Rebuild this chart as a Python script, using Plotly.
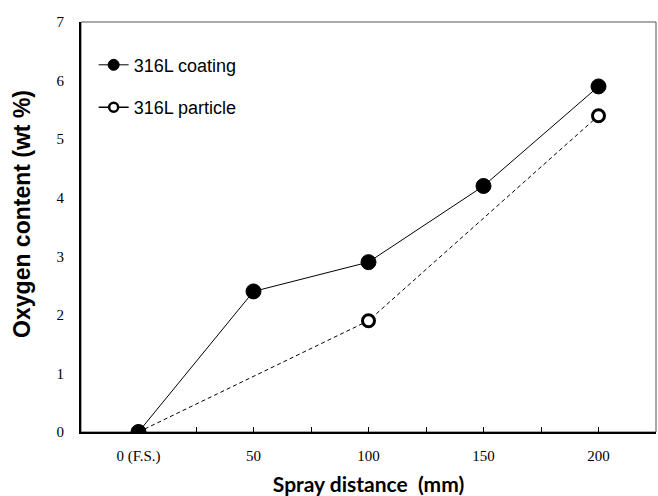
import plotly.graph_objects as go

# Data
distance_coating = [0, 50, 100, 150, 200]
oxygen_coating = [0.0, 2.4, 2.9, 4.2, 5.9]
distance_particle = [0, 100, 200]
oxygen_particle = [0.0, 1.9, 5.4]

tick_vals = [0, 25, 50, 75, 100, 125, 150, 175, 200]
tick_text = ["0 (F.S.)", "", "50", "", "100", "", "150", "", "200"]
y_ticks = [0, 1, 2, 3, 4, 5, 6, 7]

fig = go.Figure()

# plotted series (particle below coating so the shared 0 point shows filled)
fig.add_trace(go.Scatter(
    x=distance_particle, y=oxygen_particle, mode="lines+markers",
    name="316L particle", showlegend=False,
    line=dict(color="black", width=1, dash="4px,3px"),
    marker=dict(symbol="circle", size=12, color="white", line=dict(color="black", width=3)),
))
fig.add_trace(go.Scatter(
    x=distance_coating, y=oxygen_coating, mode="lines+markers",
    name="316L coating", showlegend=False,
    line=dict(color="black", width=1),
    marker=dict(symbol="circle", size=15, color="black", line=dict(color="black", width=1)),
))

# legend entries
fig.add_trace(go.Scatter(
    x=[None], y=[None], mode="lines+markers", name="316L coating", legendgroup="a",
    line=dict(color="black", width=1),
    marker=dict(symbol="circle", size=11, color="black", line=dict(color="black", width=1)),
))
fig.add_trace(go.Scatter(
    x=[None], y=[None], mode="lines+markers", name="316L particle", legendgroup="b",
    line=dict(color="black", width=1.5),
    marker=dict(symbol="circle", size=9, color="white", line=dict(color="black", width=2.5)),
))

fig.update_layout(
    width=658, height=496,
    margin=dict(l=81, r=2, t=22, b=64),
    paper_bgcolor="white", plot_bgcolor="white",
    showlegend=True,
    legend=dict(
        x=0.022, y=0.94, xanchor="left", yanchor="top",
        bgcolor="rgba(0,0,0,0)", borderwidth=0,
        font=dict(family="Liberation Sans, Arial, sans-serif", size=18, color="black"),
        tracegroupgap=16,
    ),
    shapes=[dict(type="rect", xref="paper", yref="paper", x0=0, y0=0, x1=1, y1=1,
                 line=dict(color="#555555", width=1), layer="below")],
    annotations=[dict(
        text="Oxygen content (wt %)", textangle=-90, xref="paper", yref="paper",
        x=-0.1026, y=0.532, xanchor="center", yanchor="middle", showarrow=False,
        font=dict(family="Liberation Sans, Arial, sans-serif", size=23, color="black", weight="bold"),
    )],
)

fig.update_xaxes(
    range=[-25, 225], tickmode="array", tickvals=tick_vals, ticktext=tick_text,
    ticks="inside", ticklen=5, tickcolor="black", tickwidth=1,
    ticklabelstandoff=9,
    showline=True, linecolor="black", linewidth=2, showgrid=False, zeroline=False,
    tickfont=dict(family="Liberation Serif, Times New Roman, serif", size=15, color="black"),
    title=dict(text="Spray distance  (mm)", standoff=13,
               font=dict(family="Lato, Open Sans, sans-serif", size=21, color="black", weight="bold")),
)
fig.update_yaxes(
    range=[0, 7], tickmode="array", tickvals=y_ticks,
    ticks="", ticklabelstandoff=12,
    showline=True, linecolor="black", linewidth=2, showgrid=False, zeroline=False,
    tickfont=dict(family="Liberation Serif, Times New Roman, serif", size=15, color="black"),
)

fig.write_html("out.html")
